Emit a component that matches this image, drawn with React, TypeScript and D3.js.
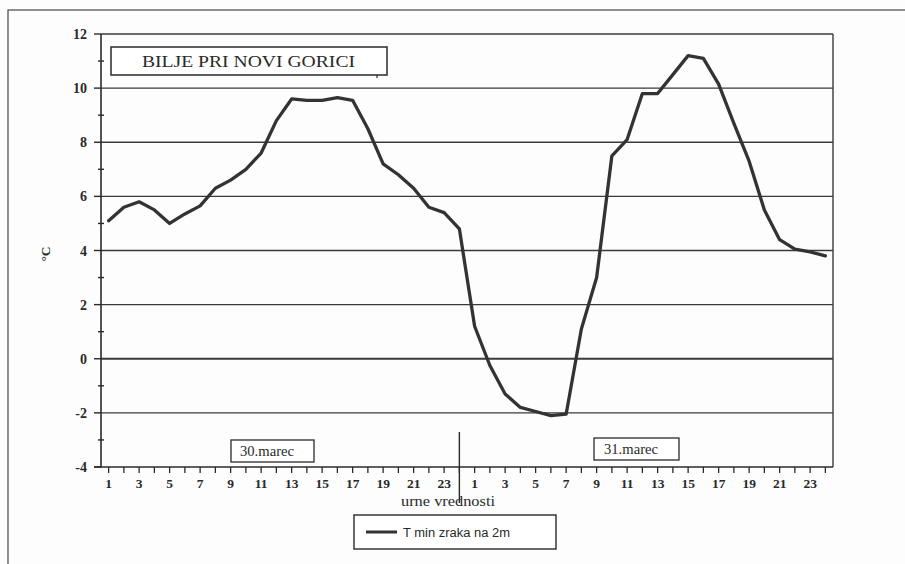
import React from "react";
import * as d3 from "d3";

const hours: string[] = [
  "1","2","3","4","5","6","7","8","9","10","11","12","13","14","15","16","17","18","19","20","21","22","23","24",
  "1","2","3","4","5","6","7","8","9","10","11","12","13","14","15","16","17","18","19","20","21","22","23","24",
];
const tMin: number[] = [
  5.1, 5.6, 5.8, 5.5, 5.0, 5.35, 5.65, 6.3, 6.6, 7.0, 7.6, 8.8,
  9.6, 9.55, 9.55, 9.65, 9.55, 8.5, 7.2, 6.8, 6.3, 5.6, 5.4, 4.8,
  1.2, -0.25, -1.3, -1.8, -1.95, -2.1, -2.05, 1.1, 3.0, 7.5, 8.1, 9.8,
  9.8, 10.5, 11.2, 11.1, 10.15, 8.7, 7.3, 5.5, 4.4, 4.05, 3.95, 3.8,
];
const yMajor: number[] = [-4, -2, 0, 2, 4, 6, 8, 10, 12];
const yMinor: number[] = [-3, -1, 1, 3, 5, 7, 9, 11];
const gridVals: number[] = [-2, 0, 2, 4, 6, 8, 10, 12];
const title = "BILJE PRI NOVI GORICI";
const day1 = "30.marec";
const day2 = "31.marec";
const xTitle = "urne vrednosti";
const yTitle = "°C";
const seriesName = "T min zraka na 2m";

const SERIF = "Liberation Serif, Times New Roman, DejaVu Serif, serif";
const INK = "#2a2a2a";

export default function App() {
  const idx = hours.map((_, i) => i);
  const x = d3.scaleBand<number>().domain(idx).range([101, 833]).padding(0);
  const cx = (i: number) => (x(i) as number) + x.bandwidth() / 2;
  const y = d3.scaleLinear().domain([-4, 12]).range([467, 34]);
  const line = d3
    .line<number>()
    .x((_, i) => cx(i))
    .y((d) => y(d));
  const sepX = cx(23);

  return (
    <svg
      width={905}
      height={564}
      style={{ position: "absolute", left: 0, top: 0, background: "#fff", fontFamily: SERIF }}
    >
      <rect x={0} y={0} width={905} height={564} fill="#fdfdfd" />
      <rect x={8} y={10} width={1000} height={1000} fill="none" stroke="#555" strokeWidth={1.3} />

      {gridVals.map((v) => (
        <line key={"g" + v} x1={101} x2={833} y1={y(v)} y2={y(v)} stroke="#3a3a3a" strokeWidth={v === 0 ? 2 : 1.4} />
      ))}
      <line x1={833} x2={833} y1={y(12)} y2={y(-4)} stroke="#3a3a3a" strokeWidth={1.4} />
      <line x1={101} x2={101} y1={y(12)} y2={y(-4)} stroke={INK} strokeWidth={1.6} />
      {yMajor.map((v) => (
        <line key={"ym" + v} x1={94} x2={101} y1={y(v)} y2={y(v)} stroke={INK} strokeWidth={1.4} />
      ))}
      {yMinor.map((v) => (
        <line key={"yn" + v} x1={98} x2={104} y1={y(v)} y2={y(v)} stroke={INK} strokeWidth={1.4} />
      ))}
      {yMajor.map((v) => (
        <text key={"yl" + v} x={87} y={y(v) + 5} textAnchor="end" fontFamily={SERIF} fontSize={14} fontWeight="bold" fill={INK}>
          {v}
        </text>
      ))}
      <text
        transform={`translate(50,254) rotate(-90)`}
        textAnchor="middle"
        fontFamily={SERIF}
        fontSize={13.5}
        fontWeight="bold"
        fill={INK}
      >
        {yTitle}
      </text>

      <line x1={94} x2={833} y1={y(-4)} y2={y(-4)} stroke={INK} strokeWidth={1.6} />
      {idx.map((i) => (
        <line key={"xt" + i} x1={cx(i)} x2={cx(i)} y1={y(-4)} y2={y(-4) + 6} stroke={INK} strokeWidth={1.3} />
      ))}
      {idx
        .filter((i) => i % 2 === 0)
        .map((i) => (
          <text key={"xl" + i} x={cx(i)} y={487.5} textAnchor="middle" fontFamily={SERIF} fontSize={13.5} fontWeight="bold" fill={INK}>
            {hours[i]}
          </text>
        ))}
      <text x={401} y={506} fontFamily={SERIF} fontSize={14} fill={INK} textLength={94} lengthAdjust="spacingAndGlyphs">
        {xTitle}
      </text>
      <line x1={sepX} x2={sepX} y1={432} y2={503} stroke={INK} strokeWidth={1.4} />

      <rect x={231} y={440} width={83} height={22} fill="#fff" stroke={INK} strokeWidth={1.3} />
      <text x={240} y={456} fontFamily={SERIF} fontSize={14} fill={INK} textLength={54} lengthAdjust="spacingAndGlyphs">
        {day1}
      </text>
      <rect x={594} y={438} width={85} height={22} fill="#fff" stroke={INK} strokeWidth={1.3} />
      <text x={604} y={454} fontFamily={SERIF} fontSize={14} fill={INK} textLength={54} lengthAdjust="spacingAndGlyphs">
        {day2}
      </text>

      <rect x={111} y={47} width={276} height={28} fill="#fff" stroke={INK} strokeWidth={1.5} />
      <text x={142} y={66.5} fontFamily={SERIF} fontSize={17} fill={INK} textLength={213} lengthAdjust="spacingAndGlyphs">
        {title}
      </text>
      <line x1={377} x2={377} y1={75} y2={78} stroke={INK} strokeWidth={1.2} />

      <path d={line(tMin) || ""} fill="none" stroke="#333" strokeWidth={3.3} strokeLinejoin="round" strokeLinecap="round" />

      <rect x={354} y={515} width={202} height={34} fill="#fff" stroke={INK} strokeWidth={1.4} />
      <line x1={366} x2={397} y1={532} y2={532} stroke="#333" strokeWidth={3} />
      <text x={403} y={536.5} fontFamily="Liberation Sans Narrow, Liberation Sans, Arial, sans-serif" fontSize={12} fill={INK} textLength={107} lengthAdjust="spacingAndGlyphs">
        {seriesName}
      </text>
    </svg>
  );
}
